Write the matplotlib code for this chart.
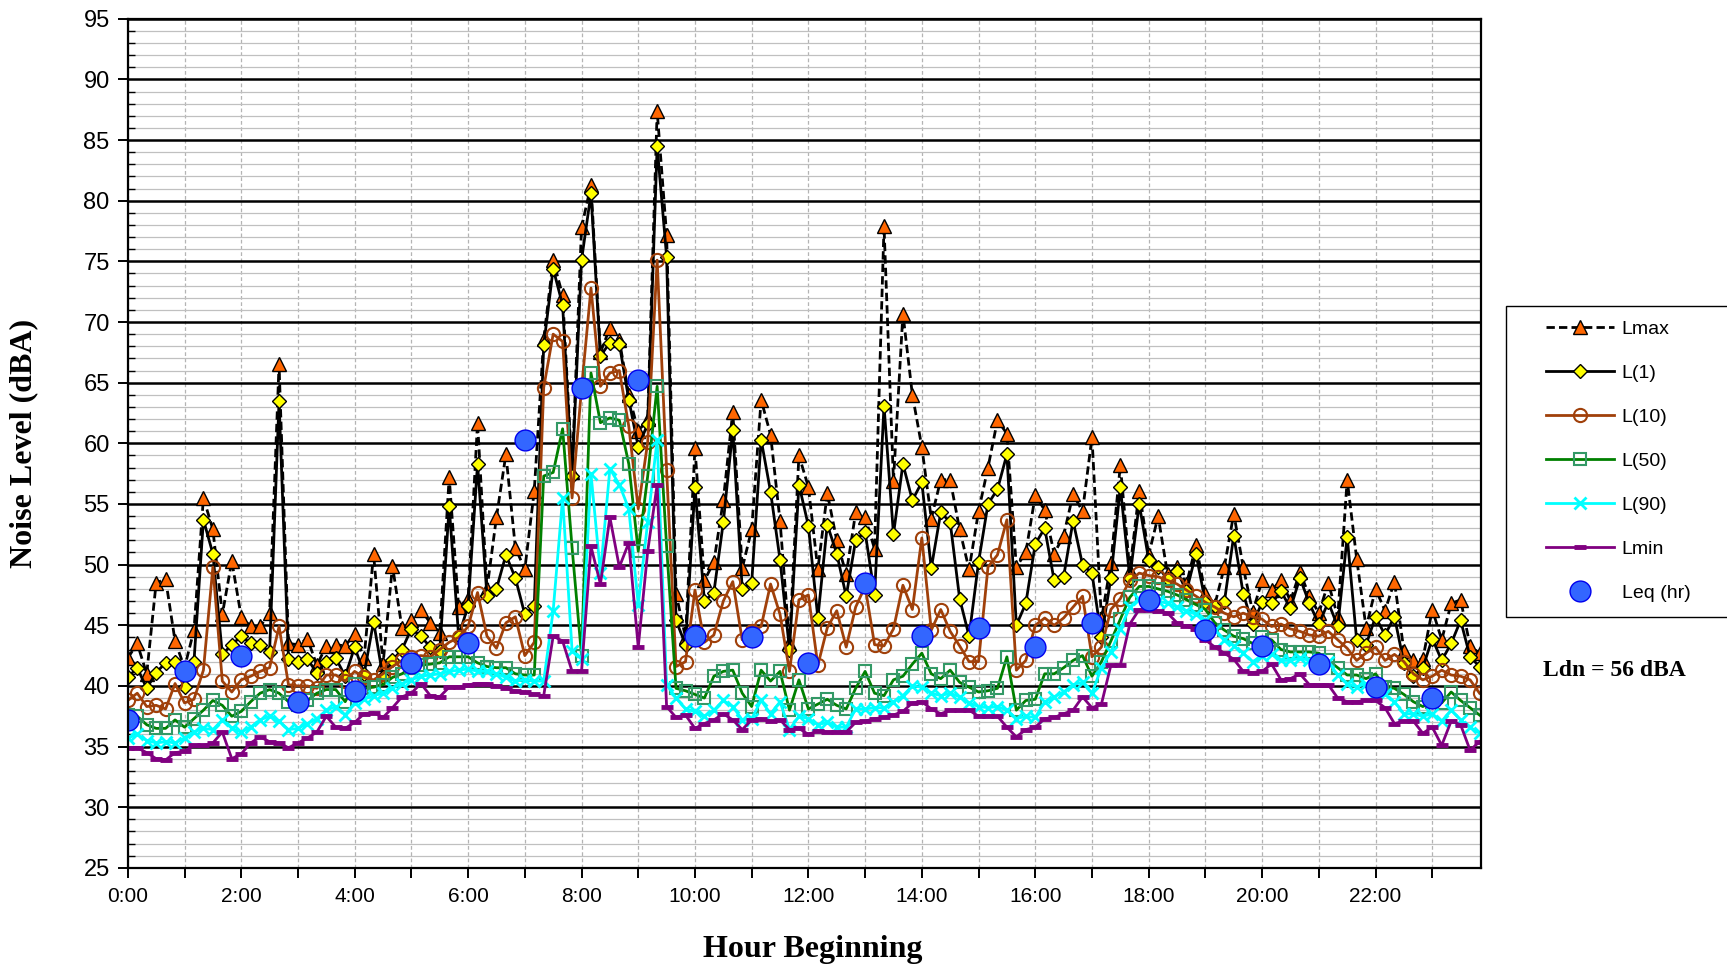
import numpy as np
import matplotlib.pyplot as plt
from matplotlib.ticker import MultipleLocator
from matplotlib.patches import Rectangle

# 10-minute intervals over the day
minutes = np.arange(0, 24 * 60, 10)

lmax = [42.3, 43.5, 41.0, 48.5, 48.8, 43.7, 41.5, 44.6, 55.5, 52.9, 45.9, 50.3,
        45.7, 44.9, 44.9, 46.0, 66.5, 43.5, 43.4, 43.9, 41.7, 43.3, 43.4, 43.3,
        44.3, 42.3, 50.9, 41.8, 49.9, 44.8, 45.4, 46.3, 45.2, 44.4, 57.2, 46.5,
        47.2, 61.7, 48.0, 53.9, 59.1, 51.4, 49.6, 56.1, 68.6, 75.1, 72.2, 57.6,
        77.8, 81.3, 67.5, 69.5, 68.5, 64.0, 61.0, 62.0, 87.4, 77.2, 47.6, 44.0,
        59.6, 48.7, 50.2, 55.3, 62.6, 49.7, 52.9, 63.6, 60.7, 53.6, 43.5, 59.0,
        56.4, 49.6, 55.9, 52.0, 49.2, 54.3, 53.9, 51.3, 77.9, 56.9, 70.7, 64.0,
        59.7, 53.8, 57.0, 57.0, 52.9, 49.6, 54.4, 58.0, 61.9, 60.8, 49.8, 51.0,
        55.7, 54.5, 50.9, 52.4, 55.8, 54.4, 60.5, 45.5, 50.1, 58.2, 49.5, 56.1,
        50.8, 54.0, 49.2, 49.8, 48.4, 51.6, 47.6, 46.7, 49.8, 54.2, 49.8, 46.1,
        48.7, 47.9, 48.7, 47.0, 49.4, 47.4, 46.0, 48.5, 45.7, 57.0, 50.5, 44.8,
        48.0, 46.2, 48.6, 42.9, 42.1, 42.2, 46.3, 43.8, 46.8, 47.1, 43.3, 42.7]

l1 = [40.7, 41.5, 39.8, 41.1, 41.9, 42.0, 39.9, 42.0, 53.7, 50.9, 42.6, 43.4,
      44.1, 43.5, 43.4, 42.8, 63.5, 42.2, 42.0, 42.2, 41.1, 42.0, 42.3, 40.8,
      43.2, 41.0, 45.3, 40.7, 42.1, 43.0, 44.7, 44.1, 43.2, 42.9, 54.8, 44.1,
      46.6, 58.3, 47.4, 48.0, 50.8, 48.9, 45.9, 46.6, 68.1, 74.4, 71.4, 57.3,
      75.1, 80.6, 67.2, 68.3, 68.2, 63.6, 59.7, 61.6, 84.5, 75.4, 45.4, 43.4,
      56.4, 47.0, 47.7, 53.5, 61.1, 48.0, 48.5, 60.3, 56.0, 50.4, 43.0, 56.6,
      53.2, 45.6, 53.3, 50.9, 47.4, 52.0, 52.7, 47.5, 63.1, 52.5, 58.3, 55.3,
      56.8, 49.7, 54.3, 53.5, 47.2, 44.1, 50.2, 55.0, 56.2, 59.1, 45.0, 46.8,
      51.7, 53.0, 48.7, 49.0, 53.6, 50.0, 49.3, 44.0, 48.9, 56.4, 48.9, 55.0,
      50.4, 49.8, 48.8, 49.5, 47.8, 50.9, 46.9, 46.6, 46.9, 52.4, 47.6, 45.1,
      46.9, 46.8, 47.8, 46.4, 48.9, 46.8, 45.1, 46.9, 44.9, 52.3, 43.8, 43.4,
      45.7, 44.2, 45.7, 41.9, 40.8, 41.5, 43.9, 42.1, 43.5, 45.4, 42.4, 41.6]

l10 = [38.8, 39.4, 38.3, 38.4, 38.1, 40.2, 38.6, 38.9, 41.3, 49.8, 40.4, 39.5,
       40.5, 40.8, 41.2, 41.5, 44.9, 40.1, 40.0, 40.0, 39.8, 40.9, 40.9, 40.4,
       41.2, 40.7, 40.5, 41.0, 41.6, 42.1, 42.4, 42.5, 42.4, 43.0, 43.6, 44.0,
       44.9, 47.7, 44.1, 43.1, 45.2, 45.7, 42.5, 43.6, 64.6, 69.0, 68.4, 55.5,
       64.5, 72.8, 64.7, 65.8, 66.0, 61.4, 54.6, 60.1, 75.1, 57.8, 41.6, 42.0,
       47.9, 43.6, 44.2, 47.0, 48.6, 43.8, 44.5, 44.9, 48.4, 45.9, 41.2, 47.1,
       47.5, 41.7, 44.8, 46.2, 43.2, 46.5, 48.2, 43.4, 43.3, 44.7, 48.3, 46.3,
       52.2, 44.6, 46.3, 44.5, 43.3, 42.0, 42.0, 49.8, 50.8, 53.7, 41.3, 42.1,
       45.0, 45.6, 45.0, 45.6, 46.5, 47.4, 42.4, 43.2, 46.3, 47.2, 48.7, 49.3,
       49.1, 49.0, 48.7, 48.4, 47.9, 47.4, 46.9, 46.5, 46.0, 45.7, 46.0, 45.7,
       45.5, 44.9, 45.1, 44.7, 44.5, 44.2, 44.1, 44.5, 43.8, 43.1, 42.1, 42.7,
       43.2, 42.1, 42.6, 42.0, 41.0, 40.5, 40.8, 41.3, 40.9, 40.8, 40.5, 39.4]

l50 = [37.6, 37.5, 36.8, 36.5, 36.5, 37.2, 36.6, 37.3, 38.0, 38.8, 38.4, 37.5,
       37.9, 38.7, 39.4, 39.7, 39.4, 38.7, 38.4, 38.8, 39.4, 39.7, 39.7, 38.7,
       40.2, 39.8, 39.9, 40.1, 40.7, 41.0, 41.5, 41.7, 41.8, 41.9, 42.4, 42.4,
       42.4, 41.9, 41.6, 41.5, 41.5, 41.0, 40.9, 40.9, 57.3, 57.6, 61.2, 51.4,
       42.5, 65.8, 61.7, 62.1, 61.9, 58.3, 51.1, 57.3, 64.7, 51.5, 39.8, 39.6,
       39.3, 39.0, 40.8, 41.2, 41.3, 39.4, 38.3, 41.3, 40.4, 41.2, 38.0, 40.5,
       38.1, 38.5, 38.9, 38.4, 38.1, 39.8, 41.2, 39.4, 39.2, 40.5, 40.8, 41.8,
       42.7, 41.0, 40.6, 41.3, 40.3, 39.9, 39.5, 39.6, 39.8, 42.4, 38.0, 38.8,
       38.9, 41.0, 41.0, 41.5, 42.1, 42.5, 40.8, 42.0, 43.7, 45.5, 47.3, 48.2,
       48.2, 48.0, 47.8, 47.5, 47.1, 46.7, 46.3, 45.2, 44.6, 44.1, 43.9, 43.5,
       44.0, 43.8, 43.0, 42.8, 42.8, 42.8, 42.7, 42.1, 41.5, 40.9, 40.9, 40.6,
       41.0, 39.9, 39.8, 39.3, 38.7, 38.3, 38.7, 38.6, 39.5, 38.8, 38.2, 37.6]

l90 = [35.7, 36.0, 35.5, 35.3, 35.4, 35.3, 35.7, 36.2, 36.5, 36.4, 37.2, 36.5,
       36.2, 36.6, 37.2, 37.5, 37.1, 36.4, 36.5, 36.9, 37.3, 38.0, 38.3, 37.6,
       38.6, 38.9, 39.2, 39.4, 39.8, 40.2, 40.5, 40.8, 40.9, 41.0, 41.2, 41.3,
       41.4, 41.2, 41.2, 41.0, 40.7, 40.4, 40.5, 40.4, 40.4, 46.2, 55.5, 42.9,
       42.2, 57.5, 49.3, 57.9, 56.6, 54.6, 46.7, 53.5, 60.3, 40.1, 39.0, 38.1,
       37.9, 37.5, 38.0, 38.8, 38.3, 37.2, 37.3, 38.8, 37.7, 38.7, 36.4, 37.5,
       37.3, 36.8, 37.0, 36.6, 36.6, 38.1, 38.1, 38.2, 38.2, 38.7, 39.2, 40.0,
       39.9, 39.4, 39.2, 39.4, 39.1, 38.6, 38.3, 38.2, 38.3, 38.0, 37.3, 37.5,
       37.4, 38.7, 39.1, 39.5, 40.1, 40.3, 39.4, 41.5, 42.8, 44.7, 46.5, 47.2,
       47.2, 47.0, 46.8, 46.5, 46.2, 45.9, 45.4, 44.6, 43.8, 43.3, 42.7, 42.0,
       42.5, 42.6, 42.1, 42.1, 42.3, 42.1, 42.1, 42.0, 40.9, 40.2, 39.9, 40.2,
       39.4, 39.3, 38.7, 37.7, 37.7, 37.5, 37.7, 37.1, 38.0, 37.2, 36.6, 36.1]

lmin = [34.9, 34.9, 34.5, 34.0, 33.9, 34.5, 34.6, 35.1, 35.1, 35.3, 36.2, 34.0,
        34.4, 35.3, 35.8, 35.4, 35.3, 34.9, 35.3, 35.7, 36.2, 37.5, 36.6, 36.5,
        37.0, 37.7, 37.8, 37.4, 38.2, 39.1, 39.4, 40.2, 39.2, 39.1, 39.9, 39.9,
        40.1, 40.2, 40.2, 40.0, 39.8, 39.6, 39.5, 39.3, 39.2, 44.1, 43.7, 41.2,
        41.2, 51.5, 48.4, 53.9, 49.8, 51.8, 43.2, 51.1, 56.6, 38.3, 37.4, 37.6,
        36.5, 36.9, 37.2, 37.7, 37.2, 36.4, 37.2, 37.3, 37.1, 37.2, 36.4, 36.5,
        36.0, 36.3, 36.2, 36.2, 36.2, 37.0, 37.1, 37.3, 37.4, 37.6, 37.9, 38.6,
        38.7, 38.1, 37.7, 38.0, 38.0, 38.0, 37.5, 37.5, 37.5, 36.6, 35.8, 36.4,
        36.6, 37.3, 37.4, 37.7, 38.0, 39.1, 38.2, 38.5, 41.7, 41.7, 45.1, 46.3,
        46.3, 46.2, 46.0, 45.2, 44.9, 44.7, 43.8, 43.2, 42.7, 42.2, 41.2, 41.1,
        41.2, 41.8, 40.5, 40.6, 41.0, 40.1, 40.1, 40.1, 39.0, 38.7, 38.7, 38.8,
        38.8, 38.2, 36.9, 37.1, 37.1, 36.1, 36.6, 35.1, 37.1, 36.8, 34.7, 35.4]

leq_hours = list(range(24))
leq = [37.2, 41.2, 42.5, 38.7, 39.6, 41.9, 43.5, 60.3, 64.6, 65.2, 44.1, 44.0,
       41.9, 48.5, 44.1, 44.8, 43.2, 45.2, 47.1, 44.6, 43.3, 41.8, 39.9, 39.0]

hour_labels = [f"{h}:00" for h in range(0, 24, 2)]

sans = ['Liberation Sans', 'DejaVu Sans']
serif = ['Liberation Serif', 'DejaVu Serif']

t = minutes / 60

fig = plt.figure(figsize=(17.27, 9.67), dpi=100)
ax = fig.add_axes([0.074, 0.1025, 0.7838, 0.8781])

lw = 2.0
ax.plot(t, lmax, color='black', ls=(0, (3, 1.5)), lw=lw, marker='^', ms=10,
        mfc='#FF6600', mec='black', mew=1.0, label='Lmax')
ax.plot(t, l1, color='black', lw=lw, marker='D', ms=7.5,
        mfc='#FFFF00', mec='black', mew=1.0, label='L(1)')
ax.plot(t, l10, color='#A0400A', lw=lw, marker='o', ms=9.5,
        mfc='none', mec='#A0400A', mew=1.5, label='L(10)')
ax.plot(t, l50, color='#008000', lw=lw, marker='s', ms=8.5,
        mfc='none', mec='#339966', mew=1.5, label='L(50)')
ax.plot(t, l90, color='#00FFFF', lw=lw, marker='x', ms=8.5,
        mec='#00FFFF', mew=2.0, label='L(90)')
ax.plot(t, lmin, color='#800080', lw=lw, marker='_', ms=9,
        mec='#800080', mew=3.5, label='Lmin')
ax.plot(leq_hours, leq, ls='none', marker='o', ms=15,
        mfc='#3366FF', mec='#0000EE', mew=1.0, label='Leq (hr)')

ax.set_xlim(0, 143.2 / 6)
ax.set_ylim(25, 95)
ax.yaxis.set_major_locator(MultipleLocator(5))
ax.yaxis.set_minor_locator(MultipleLocator(1))
ax.set_xticks(range(0, 24, 2))
ax.set_xticklabels(hour_labels)
ax.xaxis.set_minor_locator(MultipleLocator(1))

ax.set_axisbelow(True)
ax.grid(which='major', axis='y', color='black', lw=1.8)
ax.grid(which='minor', axis='y', color='#c0c0c0', lw=0.9)
ax.grid(which='both', axis='x', color='#b4b4b4', lw=0.9, ls=(0, (3, 2)))

for s in ax.spines.values():
    s.set_linewidth(1.6)
ax.tick_params(axis='y', which='major', direction='out', length=7, width=1.4, labelsize=17, pad=6)
ax.tick_params(axis='y', which='minor', direction='in', length=5, width=1.0)
ax.tick_params(axis='x', which='major', direction='out', length=7, width=1.4, labelsize=15, pad=7)
ax.tick_params(axis='x', which='minor', direction='out', length=7, width=1.4)
for lab in ax.get_xticklabels() + ax.get_yticklabels():
    lab.set_family(sans)

fig.text(0.0139, 0.541, 'Noise Level (dBA)', rotation=90, ha='center', va='center',
         fontsize=23, fontweight='bold', family=serif)
fig.text(0.4707, 0.018, 'Hour Beginning', ha='center', va='center',
         fontsize=23, fontweight='bold', family=serif)
fig.text(0.9346, 0.307, 'Ldn = 56 dBA', ha='center', va='center',
         fontsize=17, fontweight='bold', family=serif)

# legend box (runs off the right edge like the original)
fig.patches.append(Rectangle((0.8718, 0.362), 0.2, 0.3215, transform=fig.transFigure,
                             facecolor='white', edgecolor='black', lw=1.0))
handles, labels = ax.get_legend_handles_labels()
fig.legend(handles, labels, loc='upper left', bbox_to_anchor=(0.8952, 0.669),
           frameon=False, borderpad=0, borderaxespad=0, handlelength=3.5,
           handletextpad=0.4, labelspacing=1.36, prop={'family': sans, 'size': 14})

fig.savefig('out.png', dpi=100)
